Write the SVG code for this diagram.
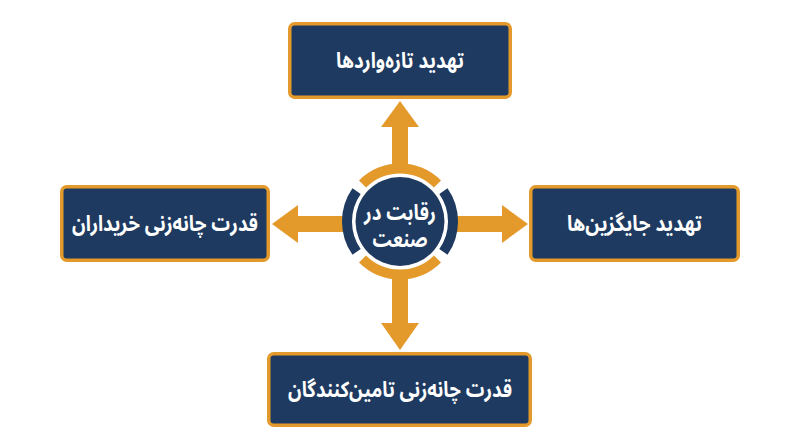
<svg xmlns="http://www.w3.org/2000/svg" width="800" height="447" viewBox="0 0 800 447">
  <style>
    .box { fill: #1e3a60; stroke: #e39a2b; stroke-width: 3.5; }
    .lbl { fill: #ffffff; font-family: "Noto Sans Arabic", "Noto Sans", "DejaVu Sans", sans-serif; font-weight: bold; font-size: 22px; text-anchor: middle; }
    .arrow { fill: #e39a2b; }
    .ring { fill: none; stroke-width: 10; }
    .ring-o { stroke: #e39a2b; }
    .ring-n { stroke: #1e3a60; }
  </style>
  <rect width="800" height="447" fill="#ffffff"/>
  <g id="connectors">
    <polygon class="arrow" points="392,170 392,127 381,127 400,101 419,127 408,127 408,170"/>
    <polygon class="arrow" points="392,274 392,323 381,323 400,350 419,323 408,323 408,274"/>
    <polygon class="arrow" points="346,216 298,216 298,205 272,224 298,243 298,232 346,232"/>
    <polygon class="arrow" points="454,216 502,216 502,205 528,224 502,243 502,232 454,232"/>
  </g>
  <g id="center">
    <path class="ring ring-o" d="M 362.52 184.02 A 53 53 0 0 1 437.48 184.02"/>
    <path class="ring ring-n" d="M 443.42 191.10 A 53 53 0 0 1 443.42 251.90"/>
    <path class="ring ring-o" d="M 437.48 258.98 A 53 53 0 0 1 362.52 258.98"/>
    <path class="ring ring-n" d="M 356.58 251.90 A 53 53 0 0 1 356.58 191.10"/>
    <circle cx="400" cy="221.5" r="44.5" fill="#1e3a60"/>
    <text class="lbl" direction="rtl" style="font-size:22px"><tspan x="400" y="220" textLength="72" lengthAdjust="spacingAndGlyphs">رقابت در</tspan><tspan x="400" y="247" textLength="55" lengthAdjust="spacingAndGlyphs">صنعت</tspan></text>
  </g>
  <g id="new-entrants">
    <rect class="box" x="289.75" y="23.75" width="220.5" height="73.5" rx="5"/>
    <text class="lbl" x="400" y="68" direction="rtl" textLength="128" lengthAdjust="spacingAndGlyphs">تهدید تازه&#8204;واردها</text>
  </g>
  <g id="substitutes">
    <rect class="box" x="530.75" y="186.75" width="207.5" height="73.5" rx="5"/>
    <text class="lbl" x="634.5" y="231" direction="rtl" textLength="135" lengthAdjust="spacingAndGlyphs">تهدید جایگزین&#8204;ها</text>
  </g>
  <g id="buyers">
    <rect class="box" x="61.75" y="186.75" width="206.5" height="73.5" rx="5"/>
    <text class="lbl" x="165" y="231" direction="rtl" textLength="186" lengthAdjust="spacingAndGlyphs">قدرت چانه&#8204;زنی خریداران</text>
  </g>
  <g id="suppliers">
    <rect class="box" x="268.75" y="353.75" width="261.5" height="71.5" rx="5"/>
    <text class="lbl" x="400" y="397" direction="rtl" textLength="224" lengthAdjust="spacingAndGlyphs">قدرت چانه&#8204;زنی تامین&#8204;کنندگان</text>
  </g>
</svg>
